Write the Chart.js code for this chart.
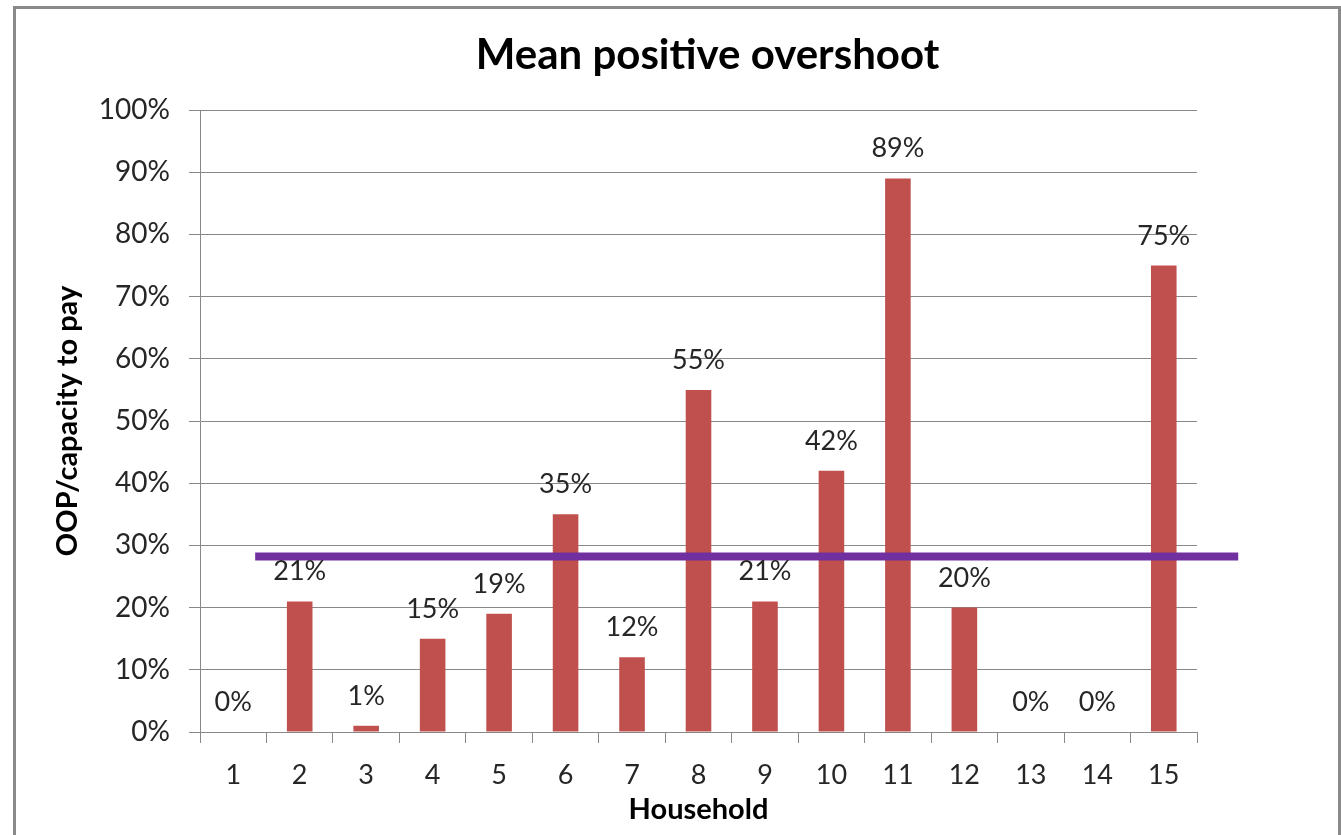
<!DOCTYPE html>
<html>
<head>
<meta charset="utf-8">
<title>Mean positive overshoot</title>
<script src="https://cdn.jsdelivr.net/npm/chart.js@4"></script>
<style>
  html, body { margin: 0; padding: 0; background: #fff; overflow: hidden; }
  .frame {
    position: absolute; left: 13px; top: 6px;
    width: 1322px; height: 829px;
    border: 3px solid #8a8a8a; border-bottom: none;
  }
  .frame canvas { display: block; }
</style>
</head>
<body>
<div class="frame">
  <canvas id="overshootChart" width="1322" height="829"></canvas>
</div>
<script>
// ── Data ──────────────────────────────────────────────────────────────────────
const households = ['1','2','3','4','5','6','7','8','9','10','11','12','13','14','15'];
const overshoot  = [0, 21, 1, 15, 19, 35, 12, 55, 21, 42, 89, 20, 0, 0, 75];
const meanOvershoot = 28.2;
const yTicks = [0, 10, 20, 30, 40, 50, 60, 70, 80, 90, 100];
const chartTitle = 'Mean positive overshoot';

const BAR_RED   = '#C0504D';
const MEAN_PURP = '#7030A0';
const GRID_GREY = '#888888';
const TEXT_DARK = '#262626';
const FONT      = "Lato, 'Open Sans', sans-serif";

// ── Plugins ───────────────────────────────────────────────────────────────────
// horizontal mean line, spanning fractional category positions
const meanLine = {
  id: 'meanLine',
  afterDatasetsDraw(chart, args, opts) {
    const { ctx, scales: { x, y } } = chart;
    const yPix = y.getPixelForValue(opts.value);
    ctx.save();
    ctx.strokeStyle = opts.color;
    ctx.lineWidth = opts.width;
    ctx.beginPath();
    ctx.moveTo(x.getPixelForValue(opts.from), yPix);
    ctx.lineTo(x.getPixelForValue(opts.to), yPix);
    ctx.stroke();
    ctx.restore();
  }
};

// value labels floating above each bar
const barLabels = {
  id: 'barLabels',
  afterDraw(chart, args, opts) {
    const { ctx } = chart;
    const meta = chart.getDatasetMeta(0);
    ctx.save();
    ctx.font = opts.font;
    ctx.fillStyle = opts.color;
    ctx.textAlign = 'center';
    ctx.textBaseline = 'alphabetic';
    meta.data.forEach((bar, i) => {
      ctx.fillText(overshoot[i] + '%', bar.x, bar.y - opts.gap);
    });
    ctx.restore();
  }
};

// chart heading, centred a little right of the plot area like the Excel original
const heading = {
  id: 'heading',
  afterDraw(chart, args, opts) {
    const { ctx, chartArea } = chart;
    ctx.save();
    ctx.font = opts.font;
    ctx.fillStyle = opts.color;
    ctx.textAlign = 'center';
    ctx.textBaseline = 'middle';
    ctx.fillText(opts.text, (chartArea.left + chartArea.right) / 2 + opts.shift, opts.y);
    ctx.restore();
  }
};

// ── Chart ─────────────────────────────────────────────────────────────────────
new Chart(document.getElementById('overshootChart').getContext('2d'), {
  type: 'bar',
  data: {
    labels: households,
    datasets: [{
      data: overshoot,
      backgroundColor: BAR_RED,
      borderWidth: 0,
      categoryPercentage: 1,
      barPercentage: 0.385,
    }]
  },
  plugins: [meanLine, barLabels, heading],
  options: {
    responsive: false,
    animation: false,
    layout: { padding: { left: 0, right: 141, top: 101, bottom: 0 } },
    scales: {
      x: {
        grid: {
          offset: true,
          drawOnChartArea: false,
          drawTicks: true,
          tickLength: 11,
          tickColor: GRID_GREY,
        },
        border: { display: true, color: GRID_GREY },
        ticks: { color: TEXT_DARK, font: { family: FONT, size: 27 }, padding: 16, maxRotation: 0 },
        title: {
          display: true,
          text: 'Household',
          color: '#000',
          font: { family: FONT, size: 29, weight: 'bold' },
          padding: { top: 0, bottom: 10.5 },
        },
        afterFit: s => { s.height = 106; },
      },
      y: {
        min: 0,
        max: 100,
        afterBuildTicks: s => { s.ticks = yTicks.map(v => ({ value: v })); },
        grid: { color: GRID_GREY, tickLength: 11, tickColor: GRID_GREY },
        border: { display: true, color: GRID_GREY },
        ticks: {
          color: TEXT_DARK,
          font: { family: FONT, size: 28 },
          padding: 19,
          callback: v => v + '%',
        },
        title: {
          display: true,
          text: 'OOP/capacity to pay',
          color: '#000',
          font: { family: FONT, size: 29, weight: 'bold' },
          padding: { top: 34.5, bottom: 0 },
        },
        afterFit: s => { s.width = 184; },
      }
    },
    plugins: {
      legend: { display: false },
      tooltip: { enabled: false },
      title: { display: false },
      heading: { text: chartTitle, font: "bold 42px " + FONT, color: '#000', y: 46, shift: 9 },
      meanLine: { value: meanOvershoot, from: 0.33, to: 15.12, color: MEAN_PURP, width: 8 },
      barLabels: { font: "27px " + FONT, color: TEXT_DARK, gap: 21 },
    }
  }
});
</script>
</body>
</html>
